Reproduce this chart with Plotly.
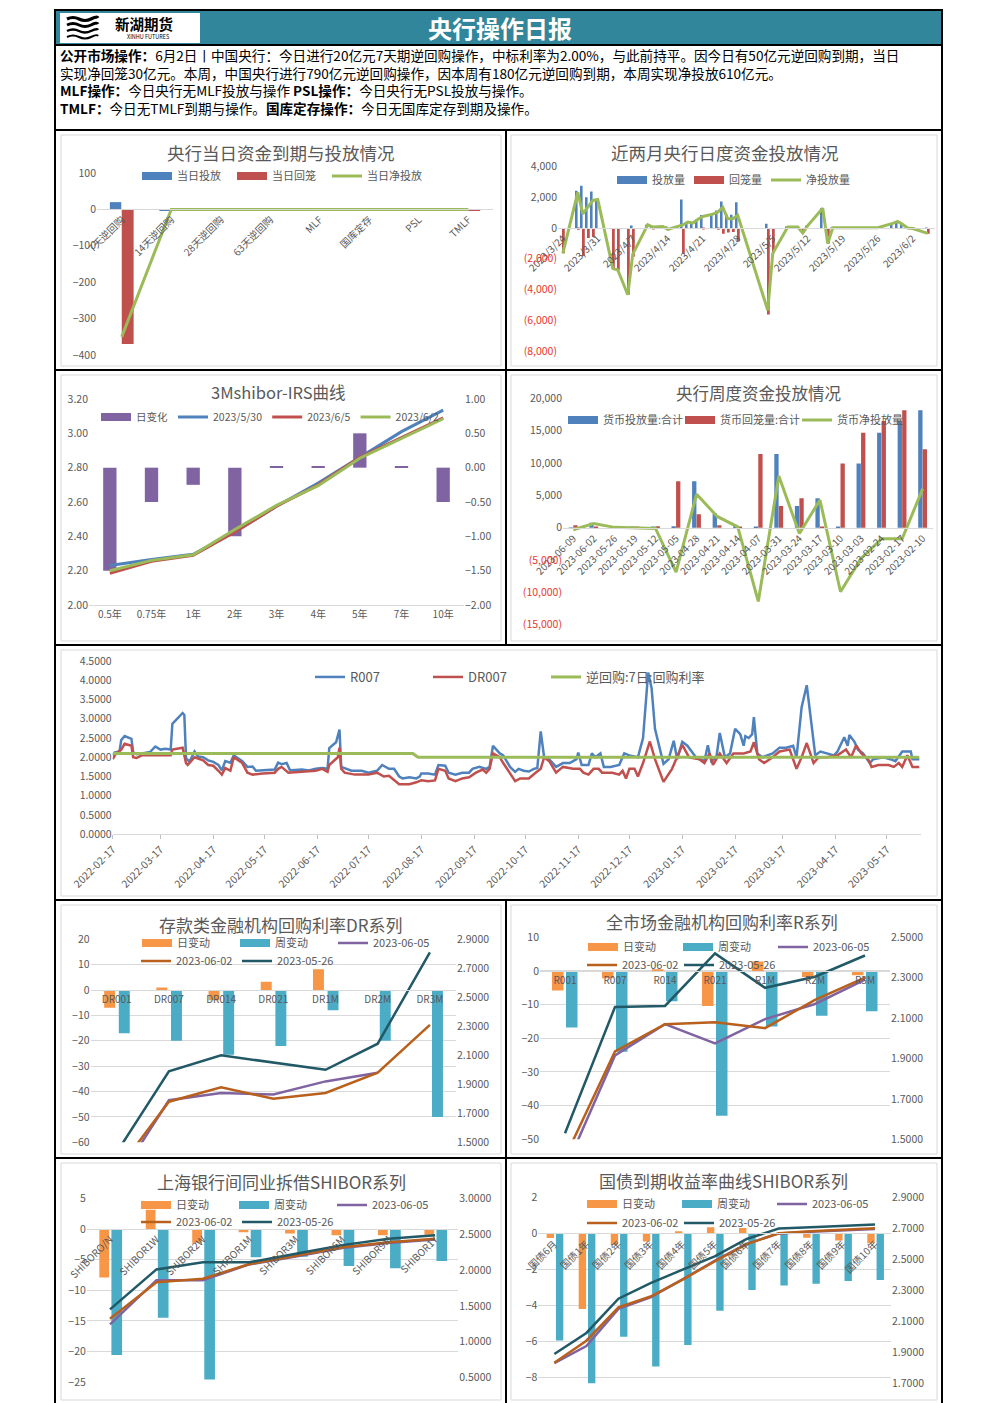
import plotly.graph_objects as go

# ---------------- data ----------------
p1_cats = ["7天逆回购", "14天逆回购", "28天逆回购", "63天逆回购", "MLF", "国库定存", "PSL", "TMLF"]
p1_inject = [20, -2, 0, 0, 0, 0, 0, 0]
p1_drain = [-370, 0, 0, 0, 0, 0, 0, -2]
p1_net = [-350, 0, 0, 0, 0, 0, 0, 0]

p2_dates = ["2023-03-24", "2023-03-27", "2023-03-28", "2023-03-29", "2023-03-30", "2023-03-31",
            "2023-04-03", "2023-04-04", "2023-04-06", "2023-04-07", "2023-04-10", "2023-04-11",
            "2023-04-12", "2023-04-13", "2023-04-14", "2023-04-17", "2023-04-18", "2023-04-19",
            "2023-04-20", "2023-04-21", "2023-04-23", "2023-04-24", "2023-04-25", "2023-04-26",
            "2023-04-27", "2023-04-28", "2023-05-04", "2023-05-05", "2023-05-08", "2023-05-09",
            "2023-05-10", "2023-05-11", "2023-05-12", "2023-05-15", "2023-05-16", "2023-05-17",
            "2023-05-18", "2023-05-19", "2023-05-22", "2023-05-23", "2023-05-24", "2023-05-25",
            "2023-05-26", "2023-05-29", "2023-05-30", "2023-05-31", "2023-06-01", "2023-06-02",
            "2023-06-05"]
p2_inject = [0, 2430, 2750, 2000, 2370, 1850, 0, 0, 0, 170, 215, 100, 100, 100, 60, 1850, 390, 320,
             550, 850, 900, 1140, 1720, 900, 860, 1680, 280, 0, 60, 60, 60, 0, 160, 1290, 0, 20,
             20, 20, 20, 20, 20, 20, 20, 300, 430, 220, 20, 20, 20]
p2_drain = [-1650, -110, -1830, -650, -580, 0, -2620, -2730, -4340, -1870, 0, -35, 0, 0, -150, -1650,
            0, 0, 0, -100, 0, -110, -370, -300, -260, -860, -5630, -1650, 0, 0, 0, -320, 0, 0,
            -1010, 0, 0, 0, 0, 0, 0, 0, 0, 0, 0, 0, -20, -50, -370]
p2_net = [-1650, 2320, 920, 1350, 1790, 1850, -2620, -2730, -4340, -1700, 215, 65, 100, 100, -90,
          200, 390, 320, 550, 750, 900, 1030, 1350, 600, 600, 820, -5350, -1650, 60, 60, 60, -320,
          160, 1290, -1010, 20, 20, 20, 20, 20, 20, 20, 20, 300, 430, 220, 0, -30, -350]
p2_tick_dates = ["2023-03-24", "2023-03-31", "2023-04-07", "2023-04-14", "2023-04-21", "2023-04-28",
                 "2023-05-05", "2023-05-12", "2023-05-19", "2023-05-26", "2023-06-02"]
p2_tick_text = ["2023/3/24", "2023/3/31", "2023/4/7", "2023/4/14", "2023/4/21", "2023/4/28",
                "2023/5/5", "2023/5/12", "2023/5/19", "2023/5/26", "2023/6/2"]
p2_yticks = [-8000, -6000, -4000, -2000, 0, 2000, 4000]

p3_tenors = ["0.5年", "0.75年", "1年", "2年", "3年", "4年", "5年", "7年", "10年"]
p3_chg = [-1.5, -0.5, -0.25, -1.0, 0.02, 0.02, 0.5, 0.02, -0.5]
p3_0530 = [2.23, 2.265, 2.295, 2.425, 2.575, 2.71, 2.86, 3.01, 3.135]
p3_0605 = [2.185, 2.255, 2.29, 2.425, 2.575, 2.70, 2.86, 2.975, 3.09]
p3_0602 = [2.20, 2.26, 2.293, 2.44, 2.58, 2.695, 2.855, 2.97, 3.085]

p4_weeks = ["2023-06-09", "2023-06-02", "2023-05-26", "2023-05-19", "2023-05-12", "2023-05-05",
            "2023-04-28", "2023-04-21", "2023-04-14", "2023-04-07", "2023-03-31", "2023-03-24",
            "2023-03-17", "2023-03-10", "2023-03-03", "2023-02-24", "2023-02-17", "2023-02-10"]
p4_inject = [20, 790, 100, 150, 150, 250, 7200, 2200, 300, 100, 11400, 3350, 4550, 100, 9950,
             14700, 16500, 18200]
p4_drain = [370, 180, 40, 200, 250, 7200, 2100, 400, 150, 11400, 3350, 4550, 100, 9950, 14700,
            16500, 18200, 12150]
p4_net = [-300, 650, 60, 0, -100, -6850, 5200, 1750, 150, -11400, 8000, -900, 4300, -9900, -4750,
          -1700, -1700, 6050]
p4_yticks = [-15000, -10000, -5000, 0, 5000, 10000, 15000, 20000]

r007 = [("2022-02-17", 2.05), ("2022-02-18", 2.12), ("2022-02-21", 2.15), ("2022-02-22", 2.45),
        ("2022-02-24", 2.55), ("2022-02-26", 2.52), ("2022-02-28", 2.48), ("2022-03-01", 2.13),
        ("2022-03-03", 2.08), ("2022-03-06", 2.10), ("2022-03-09", 2.12), ("2022-03-11", 2.14),
        ("2022-03-14", 2.28), ("2022-03-17", 2.20), ("2022-03-20", 2.22), ("2022-03-23", 2.20),
        ("2022-03-24", 2.87), ("2022-03-28", 3.05), ("2022-03-30", 3.15), ("2022-03-31", 3.10),
        ("2022-04-01", 1.98), ("2022-04-03", 1.88), ("2022-04-06", 2.15), ("2022-04-08", 2.02),
        ("2022-04-11", 2.00), ("2022-04-14", 1.92), ("2022-04-17", 1.88), ("2022-04-20", 1.80),
        ("2022-04-22", 1.66), ("2022-04-24", 1.90), ("2022-04-27", 1.86), ("2022-04-29", 2.05),
        ("2022-05-01", 1.98), ("2022-05-04", 1.90), ("2022-05-07", 1.75), ("2022-05-10", 1.76),
        ("2022-05-12", 1.65), ("2022-05-16", 1.66), ("2022-05-19", 1.68), ("2022-05-23", 1.68),
        ("2022-05-25", 1.86), ("2022-05-27", 1.82), ("2022-05-30", 1.85), ("2022-06-01", 1.66),
        ("2022-06-04", 1.67), ("2022-06-08", 1.68), ("2022-06-12", 1.66), ("2022-06-16", 1.70),
        ("2022-06-20", 1.72), ("2022-06-23", 1.70), ("2022-06-24", 2.24), ("2022-06-28", 2.39),
        ("2022-06-30", 2.72), ("2022-07-01", 1.75), ("2022-07-03", 1.72), ("2022-07-07", 1.65),
        ("2022-07-13", 1.65), ("2022-07-17", 1.60), ("2022-07-22", 1.65), ("2022-07-25", 1.80),
        ("2022-07-29", 1.70), ("2022-08-01", 1.70), ("2022-08-04", 1.50), ("2022-08-06", 1.45),
        ("2022-08-10", 1.48), ("2022-08-14", 1.45), ("2022-08-16", 1.50), ("2022-08-17", 1.58),
        ("2022-08-21", 1.58), ("2022-08-25", 1.55), ("2022-08-27", 1.80), ("2022-08-31", 1.78),
        ("2022-09-02", 1.60), ("2022-09-06", 1.55), ("2022-09-10", 1.60), ("2022-09-14", 1.60),
        ("2022-09-16", 1.70), ("2022-09-20", 1.75), ("2022-09-24", 1.70), ("2022-09-26", 1.75),
        ("2022-09-28", 2.30), ("2022-10-02", 2.10), ("2022-10-04", 2.05), ("2022-10-08", 1.75),
        ("2022-10-11", 1.62), ("2022-10-13", 1.70), ("2022-10-16", 1.65), ("2022-10-19", 1.63),
        ("2022-10-22", 1.70), ("2022-10-24", 1.72), ("2022-10-26", 2.67), ("2022-10-28", 2.00),
        ("2022-10-31", 1.95), ("2022-11-04", 1.75), ("2022-11-08", 1.85), ("2022-11-12", 1.85),
        ("2022-11-16", 1.95), ("2022-11-17", 2.12), ("2022-11-19", 1.80), ("2022-11-23", 1.80),
        ("2022-11-25", 2.10), ("2022-11-27", 2.00), ("2022-11-30", 2.10), ("2022-12-02", 1.75),
        ("2022-12-06", 1.75), ("2022-12-11", 1.80), ("2022-12-14", 2.10), ("2022-12-17", 2.05),
        ("2022-12-22", 2.00), ("2022-12-25", 2.50), ("2022-12-28", 4.20), ("2022-12-30", 3.80),
        ("2023-01-01", 2.74), ("2023-01-04", 2.20), ("2023-01-06", 1.83), ("2023-01-09", 1.95),
        ("2023-01-12", 2.43), ("2023-01-14", 1.95), ("2023-01-17", 2.40), ("2023-01-20", 2.30),
        ("2023-01-25", 2.00), ("2023-01-30", 1.90), ("2023-02-01", 2.31), ("2023-02-03", 1.90),
        ("2023-02-06", 2.00), ("2023-02-08", 2.63), ("2023-02-11", 2.00), ("2023-02-14", 2.10),
        ("2023-02-17", 2.74), ("2023-02-20", 2.60), ("2023-02-22", 2.30), ("2023-02-23", 2.55),
        ("2023-02-25", 2.50), ("2023-02-27", 2.60), ("2023-02-28", 3.04), ("2023-03-02", 2.10),
        ("2023-03-05", 2.00), ("2023-03-11", 2.10), ("2023-03-15", 2.25), ("2023-03-19", 2.25),
        ("2023-03-23", 2.30), ("2023-03-25", 2.00), ("2023-03-28", 3.30), ("2023-03-31", 3.87),
        ("2023-04-03", 2.70), ("2023-04-05", 2.05), ("2023-04-08", 2.15), ("2023-04-12", 2.10),
        ("2023-04-16", 2.05), ("2023-04-18", 2.15), ("2023-04-22", 2.52), ("2023-04-24", 2.30),
        ("2023-04-25", 2.58), ("2023-04-28", 2.40), ("2023-04-30", 2.20), ("2023-05-03", 2.10),
        ("2023-05-07", 1.85), ("2023-05-09", 1.95), ("2023-05-15", 2.00), ("2023-05-19", 1.95),
        ("2023-05-22", 1.90), ("2023-05-26", 2.15), ("2023-05-31", 2.15), ("2023-06-01", 1.95),
        ("2023-06-05", 1.95)]
dr007 = [("2022-02-17", 1.95), ("2022-02-19", 2.10), ("2022-02-22", 2.20), ("2022-02-24", 2.35),
         ("2022-02-28", 2.30), ("2022-03-01", 2.00), ("2022-03-03", 1.98), ("2022-03-06", 2.05),
         ("2022-03-11", 2.05), ("2022-03-19", 2.05), ("2022-03-23", 2.05), ("2022-03-24", 2.20),
         ("2022-03-30", 2.25), ("2022-04-01", 1.85), ("2022-04-02", 1.80), ("2022-04-06", 2.00),
         ("2022-04-11", 1.92), ("2022-04-14", 1.80), ("2022-04-17", 1.78), ("2022-04-20", 1.65),
         ("2022-04-22", 1.55), ("2022-04-24", 1.72), ("2022-04-27", 1.65), ("2022-04-29", 2.00),
         ("2022-05-04", 1.85), ("2022-05-07", 1.60), ("2022-05-10", 1.55), ("2022-05-16", 1.58),
         ("2022-05-23", 1.60), ("2022-05-25", 1.70), ("2022-05-27", 1.75), ("2022-05-31", 1.60),
         ("2022-06-08", 1.62), ("2022-06-16", 1.65), ("2022-06-20", 1.70), ("2022-06-23", 1.62),
         ("2022-06-24", 1.80), ("2022-06-29", 2.00), ("2022-06-30", 2.25), ("2022-07-01", 1.70),
         ("2022-07-03", 1.60), ("2022-07-09", 1.55), ("2022-07-17", 1.55), ("2022-07-22", 1.60),
         ("2022-07-26", 1.50), ("2022-07-29", 1.52), ("2022-08-04", 1.30), ("2022-08-10", 1.30),
         ("2022-08-14", 1.35), ("2022-08-17", 1.40), ("2022-08-21", 1.38), ("2022-08-25", 1.40),
         ("2022-08-27", 1.70), ("2022-08-31", 1.65), ("2022-09-02", 1.45), ("2022-09-06", 1.38),
         ("2022-09-10", 1.45), ("2022-09-14", 1.48), ("2022-09-18", 1.60), ("2022-09-22", 1.68),
         ("2022-09-24", 1.60), ("2022-09-26", 1.70), ("2022-09-28", 2.10), ("2022-10-02", 2.00),
         ("2022-10-04", 1.85), ("2022-10-08", 1.60), ("2022-10-11", 1.38), ("2022-10-14", 1.45),
         ("2022-10-19", 1.45), ("2022-10-23", 1.60), ("2022-10-26", 1.70), ("2022-10-28", 2.00),
         ("2022-10-31", 1.90), ("2022-11-04", 1.60), ("2022-11-08", 1.75), ("2022-11-14", 1.70),
         ("2022-11-18", 1.70), ("2022-11-20", 1.60), ("2022-11-23", 1.55), ("2022-11-26", 1.70),
         ("2022-11-29", 1.70), ("2022-12-01", 1.60), ("2022-12-07", 1.60), ("2022-12-11", 1.55),
         ("2022-12-13", 1.65), ("2022-12-15", 1.45), ("2022-12-17", 1.70), ("2022-12-20", 1.70),
         ("2022-12-22", 1.50), ("2022-12-25", 1.85), ("2022-12-29", 2.41), ("2023-01-01", 1.95),
         ("2023-01-06", 1.36), ("2023-01-11", 1.70), ("2023-01-14", 2.00), ("2023-01-17", 2.32),
         ("2023-01-21", 2.00), ("2023-01-27", 1.95), ("2023-01-30", 1.85), ("2023-02-02", 2.10),
         ("2023-02-04", 1.80), ("2023-02-08", 2.10), ("2023-02-12", 1.85), ("2023-02-16", 2.10),
         ("2023-02-22", 2.10), ("2023-02-26", 2.15), ("2023-02-28", 2.39), ("2023-03-03", 1.95),
         ("2023-03-06", 1.85), ("2023-03-11", 2.00), ("2023-03-15", 2.15), ("2023-03-21", 2.20),
         ("2023-03-25", 1.70), ("2023-03-28", 2.00), ("2023-03-31", 2.37), ("2023-04-04", 1.85),
         ("2023-04-07", 2.00), ("2023-04-12", 2.00), ("2023-04-18", 2.05), ("2023-04-23", 2.20),
         ("2023-04-26", 2.00), ("2023-04-29", 2.31), ("2023-05-02", 2.10), ("2023-05-06", 1.95),
         ("2023-05-08", 1.75), ("2023-05-12", 1.80), ("2023-05-18", 1.80), ("2023-05-21", 1.75),
         ("2023-05-24", 1.85), ("2023-05-26", 1.75), ("2023-05-29", 2.05), ("2023-06-01", 1.75),
         ("2023-06-05", 1.75)]
repo7 = [("2022-02-17", 2.10), ("2022-08-12", 2.10), ("2022-08-15", 2.00), ("2023-06-05", 2.00)]
p5_ticks = ["2022-02-17", "2022-03-17", "2022-04-17", "2022-05-17", "2022-06-17", "2022-07-17",
            "2022-08-17", "2022-09-17", "2022-10-17", "2022-11-17", "2022-12-17", "2023-01-17",
            "2023-02-17", "2023-03-17", "2023-04-17", "2023-05-17"]

p6_cats = ["DR001", "DR007", "DR014", "DR021", "DR1M", "DR2M", "DR3M"]
p6_day = [-7, 1, -4, 3.3, 8.2, 0, 0]
p6_week = [-17, -20, -25.5, -22, -8, -20, -50]
p6_0605 = [1.23, 1.79, 1.84, 1.83, 1.92, 1.98, None]
p6_0602 = [1.30, 1.78, 1.88, 1.80, 1.84, 1.98, 2.31]
p6_0526 = [1.43, 1.99, 2.10, 2.05, 2.00, 2.18, 2.81]

p7_cats = ["R001", "R007", "R014", "R021", "R1M", "R2M", "R3M"]
p7_day = [-5.8, -2.2, 0.3, -10.4, 2.8, -1.8, -1.3]
p7_week = [-16.8, -24, -9, -43, -16.5, -13.3, -12]
p7_0605 = [1.35, 1.915, 2.07, 1.975, 2.095, 2.17, 2.29]
p7_0602 = [1.41, 1.935, 2.07, 2.08, 2.05, 2.19, 2.30]
p7_0526 = [1.53, 2.155, 2.16, 2.42, 2.25, 2.305, 2.41]

p8_cats = ["SHIBORO/N", "SHIBOR1W", "SHIBOR2W", "SHIBOR1M", "SHIBOR3M", "SHIBOR6M", "SHIBOR9M", "SHIBOR1Y"]
p8_day = [-7.9, 3.2, -2.2, -0.5, -0.7, -1.0, -1.0, -0.9]
p8_week = [-20.6, -14.5, -24.6, -4.6, -4.5, -6.0, -6.4, -5.2]
p8_0605 = [1.24, 1.86, 1.86, 2.08, 2.19, 2.31, 2.38, 2.43]
p8_0602 = [1.32, 1.83, 1.88, 2.085, 2.20, 2.32, 2.39, 2.44]
p8_0526 = [1.45, 2.01, 2.11, 2.11, 2.23, 2.35, 2.44, 2.49]

p9_cats = ["国债6月", "国债1年", "国债2年", "国债3年", "国债4年", "国债5年", "国债6年", "国债7年",
           "国债8年", "国债9年", "国债10年"]
p9_day = [-0.26, -4.2, -0.63, -0.45, 0.1, 0.33, 0.3, 0.0, -0.25, -0.4, -0.55]
p9_week = [-5.95, -8.4, -5.75, -7.4, -6.2, -4.3, -3.15, -2.9, -2.8, -2.65, -2.6]
p9_0605 = [1.83, 1.94, 2.18, 2.255, 2.37, 2.49, 2.60, 2.667, 2.678, 2.686, 2.696]
p9_0602 = [1.833, 1.975, 2.19, 2.26, 2.369, 2.487, 2.598, 2.668, 2.681, 2.69, 2.70]
p9_0526 = [1.889, 2.025, 2.246, 2.347, 2.433, 2.519, 2.631, 2.698, 2.706, 2.715, 2.724]

# ---------------- helpers ----------------
W, H = 992, 1403
PAGE_OFF = 8  # the page body adds an 8px margin around the figure div
FONT = "Noto Sans CJK SC"
GREY = "#595959"
LGRID = "#D9D9D9"
BLUE, RED, GREEN = "#4F81BD", "#C0504D", "#9BBB59"
PURPLE, ORANGE, TEAL = "#8064A2", "#F79646", "#4BACC6"
BROWN, DKTEAL = "#B8601C", "#215967"
NEG = "#E8372C"
DAY = 86400000


def fx(px):
    return (px - PAGE_OFF) / W


def fy(py):
    return 1 - (py - PAGE_OFF) / H


def acct(v):
    if v < 0:
        return f'<span style="color:{NEG}">({abs(v):,})</span>'
    return f"{v:,}"


def bar(x, y, color, xa, ya, offset, width):
    return go.Bar(x=x, y=y, marker=dict(color=color, line=dict(width=0)), xaxis=xa, yaxis=ya,
                  offset=offset, width=width, showlegend=False, hoverinfo="skip")


def swatch(name, color, leg, xa, ya):
    # legend-only entry drawn as a wide block like Excel's bar key
    return go.Scatter(x=[None], y=[None], mode="lines", line=dict(color=color, width=8),
                      name=name, legend=leg, xaxis=xa, yaxis=ya, hoverinfo="skip")


def line(x, y, color, name, leg, xa, ya, width=2.5, lw=None):
    return go.Scatter(x=x, y=y, mode="lines", line=dict(color=color, width=width), name=name,
                      legend=leg, xaxis=xa, yaxis=ya, hoverinfo="skip", connectgaps=False,
                      legendwidth=lw)


def leg(xs, yc, size=11, ew=None):
    d = dict(orientation="h", x=fx(xs - 5), y=fy(yc), xanchor="left", yanchor="middle",
             font=dict(family=FONT, size=size, color=GREY), bgcolor="rgba(0,0,0,0)",
             itemwidth=30, traceorder="normal", tracegroupgap=0)
    if ew:
        d.update(entrywidth=ew, entrywidthmode="pixels")
    return d


tf = dict(family=FONT, size=10.5, color=GREY)

traces = []
# panel 1
traces += [bar(p1_cats, p1_inject, BLUE, "x", "y", -0.24, 0.23),
           bar(p1_cats, p1_drain, RED, "x", "y", 0.0, 0.24),
           swatch("当日投放", BLUE, "legend", "x", "y"),
           swatch("当日回笼", RED, "legend", "x", "y"),
           line(p1_cats, p1_net, GREEN, "当日净投放", "legend", "x", "y", 3, 90)]
# panel 2
traces += [bar(p2_dates, p2_inject, BLUE, "x2", "y2", -0.4 * DAY, 0.36 * DAY),
           bar(p2_dates, p2_drain, RED, "x2", "y2", 0.04 * DAY, 0.36 * DAY),
           swatch("投放量", BLUE, "legend2", "x2", "y2"),
           swatch("回笼量", RED, "legend2", "x2", "y2"),
           line(p2_dates, p2_net, GREEN, "净投放量", "legend2", "x2", "y2", 3, 90)]
# panel 3 (bars on the right-hand axis drawn beneath the curves)
traces += [bar(p3_tenors, p3_chg, PURPLE, "x3", "y3", -0.16, 0.32),
           swatch("日变化", PURPLE, "legend3", "x3", "y3"),
           line(p3_tenors, p3_0530, BLUE, "2023/5/30", "legend3", "x3", "y4", 3),
           line(p3_tenors, p3_0605, RED, "2023/6/5", "legend3", "x3", "y4", 3),
           line(p3_tenors, p3_0602, GREEN, "2023/6/2", "legend3", "x3", "y4", 3)]
# panel 4
traces += [bar(p4_weeks, p4_inject, BLUE, "x4", "y5", -0.22, 0.21),
           bar(p4_weeks, p4_drain, RED, "x4", "y5", 0.0, 0.21),
           swatch("货币投放量:合计", BLUE, "legend4", "x4", "y5"),
           swatch("货币回笼量:合计", RED, "legend4", "x4", "y5"),
           line(p4_weeks, p4_net, GREEN, "货币净投放量", "legend4", "x4", "y5", 3, 110)]
# panel 5
traces += [line([d for d, _ in r007], [v for _, v in r007], BLUE, "R007", "legend5", "x5", "y6", 2.5),
           line([d for d, _ in dr007], [v for _, v in dr007], RED, "DR007", "legend5", "x5", "y6", 2.5),
           line([d for d, _ in repo7], [v for _, v in repo7], GREEN, "逆回购:7日:回购利率",
                "legend5", "x5", "y6", 3, 200)]


def rate_panel(cats, day, week, l05, l02, l26, xa, yl, yr, la, lb, offs):
    return [bar(cats, day, ORANGE, xa, yl, offs[0], offs[1]),
            bar(cats, week, TEAL, xa, yl, offs[2], offs[3]),
            swatch("日变动", ORANGE, la, xa, yl),
            swatch("周变动", TEAL, la, xa, yl),
            line(cats, l05, PURPLE, "2023-06-05", la, xa, yr, 2.5, 90),
            line(cats, l02, BROWN, "2023-06-02", lb, xa, yr),
            line(cats, l26, DKTEAL, "2023-05-26", lb, xa, yr, 2.5, 90)]


traces += rate_panel(p6_cats, p6_day, p6_week, p6_0605, p6_0602, p6_0526, "x6", "y7", "y8",
                     "legend6", "legend7", (-0.24, 0.21, 0.04, 0.21))
traces += rate_panel(p7_cats, p7_day, p7_week, p7_0605, p7_0602, p7_0526, "x7", "y9", "y10",
                     "legend8", "legend9", (-0.26, 0.23, 0.02, 0.23))
traces += rate_panel(p8_cats, p8_day, p8_week, p8_0605, p8_0602, p8_0526, "x8", "y11", "y12",
                     "legend10", "legend11", (-0.23, 0.21, 0.03, 0.23))
traces += rate_panel(p9_cats, p9_day, p9_week, p9_0605, p9_0602, p9_0526, "x9", "y13", "y14",
                     "legend12", "legend13", (-0.24, 0.23, 0.05, 0.23))

fig = go.Figure(data=traces)

base_x = dict(showgrid=False, zeroline=False, showline=True, linecolor=LGRID, linewidth=1,
              ticks="", tickfont=tf, fixedrange=True, automargin=False)
base_y = dict(showgrid=False, zeroline=False, showline=False, ticks="", tickfont=tf,
              fixedrange=True, automargin=False)

axes = dict(
    # panel 1
    xaxis=dict(base_x, domain=[fx(97), fx(493)], anchor="free", position=fy(209), type="category",
               range=[-0.5, 7.5], tickangle=-45, tickfont=dict(tf, size=10)),
    yaxis=dict(base_y, domain=[fy(355), fy(173)], anchor="x", range=[-400, 100], dtick=100),
    # panel 2
    xaxis2=dict(base_x, domain=[fx(558), fx(935)], anchor="free", position=fy(227.7), type="date",
                range=["2023-03-23 01:00", "2023-06-06 11:00"], tickvals=p2_tick_dates,
                ticktext=p2_tick_text, tickangle=-45, tickfont=dict(tf, size=10)),
    yaxis2=dict(base_y, domain=[fy(351), fy(166.5)], anchor="x2", range=[-8000, 4000],
                tickvals=p2_yticks, ticktext=[acct(v) for v in p2_yticks]),
    # panel 3
    xaxis3=dict(base_x, domain=[fx(89), fx(464)], anchor="y3", type="category", range=[-0.5, 8.5],
                tickfont=dict(tf, size=10)),
    yaxis3=dict(base_y, domain=[fy(605), fy(399)], anchor="x3", side="right", range=[-2, 1],
                dtick=0.5, tickformat=".2f"),
    yaxis4=dict(base_y, overlaying="y3", anchor="x3", side="left", range=[2.0, 3.2], dtick=0.2,
                tickformat=".2f"),
    # panel 4
    xaxis4=dict(base_x, domain=[fx(563), fx(933)], anchor="free", position=fy(527.7), type="category",
                range=[-0.5, 17.5], tickangle=-45, tickfont=dict(tf, size=10)),
    yaxis5=dict(base_y, domain=[fy(624.7), fy(398.5)], anchor="x4", range=[-15000, 20000],
                tickvals=p4_yticks, ticktext=[acct(v) for v in p4_yticks]),
    # panel 5
    xaxis5=dict(base_x, domain=[fx(112.7), fx(921)], anchor="y6", type="date",
                range=["2022-02-17", "2023-06-06"], tickvals=p5_ticks, ticktext=p5_ticks,
                tickangle=-45, ticks="outside", ticklen=4, tickcolor="#BFBFBF"),
    yaxis6=dict(base_y, domain=[fy(834.3), fy(661)], anchor="x5", range=[0, 4.5], dtick=0.5,
                tickformat=".4f"),
    # panel 6
    xaxis6=dict(base_x, domain=[fx(90.6), fx(456)], anchor="free", position=fy(990), type="category",
                range=[-0.5, 6.5], tickangle=0, tickfont=dict(tf, size=10)),
    yaxis7=dict(base_y, domain=[fy(1142.3), fy(939.3)], anchor="x6", range=[-60, 20], dtick=10,
                showgrid=True, gridcolor=LGRID),
    yaxis8=dict(base_y, overlaying="y7", anchor="x6", side="right", range=[1.5, 2.9], tick0=1.5,
                dtick=0.2, tickformat=".4f"),
    # panel 7
    xaxis7=dict(base_x, domain=[fx(540), fx(890)], anchor="free", position=fy(971), type="category",
                range=[-0.5, 6.5], tickangle=0, tickfont=dict(tf, size=10)),
    yaxis9=dict(base_y, domain=[fy(1139.3), fy(937.3)], anchor="x7", range=[-50, 10], dtick=10,
                showgrid=True, gridcolor=LGRID),
    yaxis10=dict(base_y, overlaying="y9", anchor="x7", side="right", range=[1.5, 2.5], tick0=1.5,
                 dtick=0.2, tickformat=".4f"),
    # panel 8
    xaxis8=dict(base_x, domain=[fx(86.8), fx(458.3)], anchor="free", position=fy(1228.7),
                type="category", range=[-0.5, 7.5], tickangle=-45, tickfont=dict(tf, size=10)),
    yaxis11=dict(base_y, domain=[fy(1382), fy(1198.7)], anchor="x8", range=[-25, 5], dtick=5,
                 showgrid=True, gridcolor=LGRID),
    yaxis12=dict(base_y, overlaying="y11", anchor="x8", side="right", range=[0.434, 3.0],
                 tickvals=[0.5, 1.0, 1.5, 2.0, 2.5, 3.0], tickformat=".4f"),
    # panel 9
    xaxis9=dict(base_x, domain=[fx(538.3), fx(891)], anchor="free", position=fy(1233.3),
                type="category", range=[-0.5, 10.5], tickangle=-45, tickfont=dict(tf, size=10)),
    yaxis13=dict(base_y, domain=[fy(1383.3), fy(1197.3)], anchor="x9", range=[-8.333, 2],
                 tickvals=[-8, -6, -4, -2, 0, 2], showgrid=True, gridcolor=LGRID),
    yaxis14=dict(base_y, overlaying="y13", anchor="x9", side="right", range=[1.7, 2.9], tick0=1.7,
                 dtick=0.2, tickformat=".4f"),
)

legends = dict(
    legend=leg(142, 176, 11, 50),
    legend2=leg(617, 180, 11, 32),
    legend3=leg(101, 417, 10.5),
    legend4=leg(568, 420, 11, 72),
    legend5=leg(315, 677, 13, 73),
    legend6=leg(142, 943, 11, 53),
    legend7=leg(141, 961, 11, 56),
    legend8=leg(588, 947, 11, 50),
    legend9=leg(587, 965, 11, 52),
    legend10=leg(141, 1205, 11, 53),
    legend11=leg(141, 1222, 11, 56),
    legend12=leg(587, 1204, 11, 50),
    legend13=leg(587, 1223, 11, 52),
)

# ---------------- frame, header, text ----------------
shapes = []


def rect(x0, y0, x1, y1, color="black", width=2, fill=None, layer="above"):
    shapes.append(dict(type="rect", xref="paper", yref="paper", x0=fx(x0), x1=fx(x1), y0=fy(y1),
                       y1=fy(y0), line=dict(color=color, width=width),
                       fillcolor=fill or "rgba(0,0,0,0)", layer=layer))


def hline(y, x0, x1, color="black", width=2):
    shapes.append(dict(type="line", xref="paper", yref="paper", x0=fx(x0), x1=fx(x1), y0=fy(y),
                       y1=fy(y), line=dict(color=color, width=width)))


def vline(x, y0, y1, color="black", width=2):
    shapes.append(dict(type="line", xref="paper", yref="paper", x0=fx(x), x1=fx(x), y0=fy(y0),
                       y1=fy(y1), line=dict(color=color, width=width)))


rect(55, 10, 942, 45, color="#1F5F6E", width=1, fill="#31869B", layer="below")
rect(60, 13, 200, 43, color="white", width=0, fill="white", layer="below")
# logo waves
for k, yy in enumerate([19, 25, 31, 37]):
    path = (f"M {fx(67)},{fy(yy)} Q {fx(73)},{fy(yy - 3)} {fx(79)},{fy(yy)} "
            f"T {fx(91)},{fy(yy)} T {fx(98)},{fy(yy - 1)}")
    shapes.append(dict(type="path", xref="paper", yref="paper", path=path,
                       line=dict(color="black", width=3.2 - 0.4 * k)))

rect(55, 10, 942, 1404)
for yy in [45, 130, 370, 645, 900, 1158]:
    hline(yy, 55, 942)
vline(506, 130, 645)
vline(506, 900, 1404)

inner = [(61, 135, 501, 366), (511, 135, 937, 366), (61, 375, 501, 641), (511, 375, 937, 641),
         (61, 650, 937, 896), (61, 905, 501, 1154), (511, 905, 937, 1154),
         (61, 1163, 501, 1400), (511, 1163, 937, 1400)]
for (a, b, c, d) in inner:
    rect(a, b, c, d, color=LGRID, width=1, layer="below")

ann = []


def text(x, y, s, size, color=GREY, xanchor="center", bold=False, yanchor="middle"):
    ann.append(dict(xref="paper", yref="paper", x=fx(x), y=fy(y), text=s, showarrow=False,
                    xanchor=xanchor, yanchor=yanchor, align="left",
                    font=dict(family=FONT, size=size, color=color, weight="bold" if bold else "normal")))


text(500, 28, "央行操作日报", 24, color="white", bold=True)
text(144, 23, "新湖期货", 14.5, color="black", bold=True)
text(148, 37.5, "XINHU FUTURES", 5.5, color="black")

notes = ("<b>公开市场操作：</b>6月2日丨中国央行：今日进行20亿元7天期逆回购操作，中标利率为2.00%，与此前持平。因今日有50亿元逆回购到期，当日"
         "<br>实现净回笼30亿元。本周，中国央行进行790亿元逆回购操作，因本周有180亿元逆回购到期，本周实现净投放610亿元。"
         "<br><b>MLF操作：</b>今日央行无MLF投放与操作 <b>PSL操作：</b>今日央行无PSL投放与操作。"
         "<br><b>TMLF：</b>今日无TMLF到期与操作。<b>国库定存操作：</b>今日无国库定存到期及操作。")
text(58, 43, notes, 13.6, color="black", xanchor="left", yanchor="top")

text(281, 153, "央行当日资金到期与投放情况", 17.5)
text(725, 153, "近两月央行日度资金投放情况", 17.5)
text(278, 392, "3Mshibor-IRS曲线", 16.5)
text(758, 393, "央行周度资金投放情况", 16.5)
text(281, 924, "存款类金融机构回购利率DR系列", 17)
text(722, 921, "全市场金融机构回购利率R系列", 17)
text(281, 1181, "上海银行间同业拆借SHIBOR系列", 17)
text(723, 1180, "国债到期收益率曲线SHIBOR系列", 17)

fig.update_layout(
    width=W, height=H, margin=dict(l=0, r=0, t=0, b=0, autoexpand=False), autosize=False,
    paper_bgcolor="white", plot_bgcolor="white", barmode="overlay",
    font=dict(family=FONT, color=GREY), shapes=shapes, annotations=ann, hovermode=False,
    **axes, **legends,
)

fig.write_html("out.html", config={"displayModeBar": False})
